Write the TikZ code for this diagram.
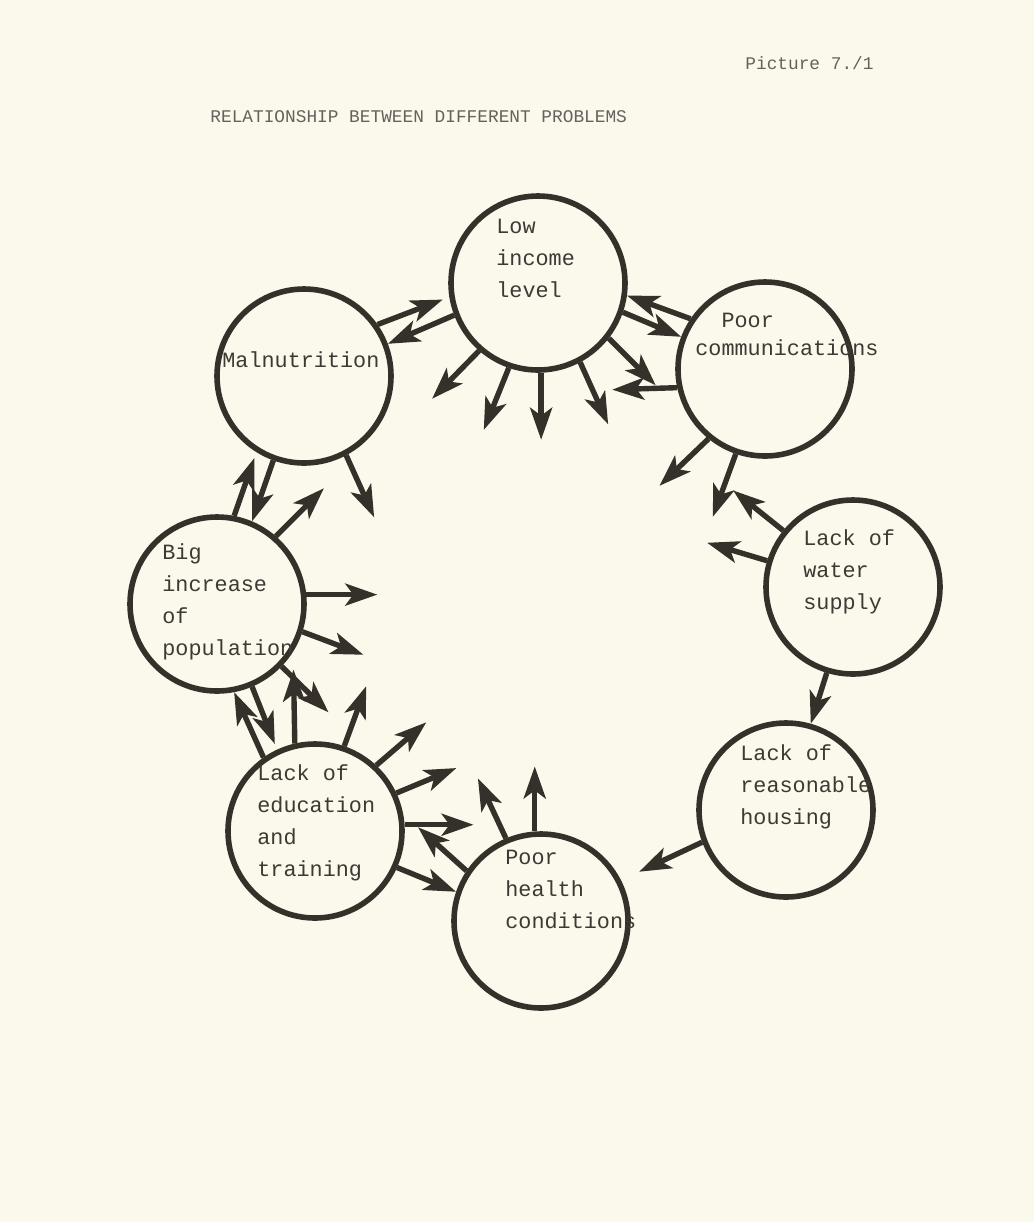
\documentclass[tikz,border=0pt]{standalone}
\usepackage{fontspec}
\setmonofont{Liberation Mono}
\usetikzlibrary{arrows.meta}
\definecolor{ink}{HTML}{35302A}
\definecolor{paper}{HTML}{FBF9EC}
\definecolor{typed}{HTML}{3E3934}
\tikzset{
	prob/.style={circle,draw=ink,line width=2.8pt,minimum size=87pt,inner sep=0pt},
	probtext/.style={anchor=west,align=left,inner sep=0pt,text=typed,font=\ttfamily\fontsize{10.9}{16}\selectfont},
	arr/.style={draw=ink,line width=2.7pt,-{Stealth[length=16pt,width=11pt,inset=4pt]}}
}
\begin{document}
\begin{tikzpicture}[x=0.5pt,y=-0.5pt]
	\fill[paper] (0,0) rectangle (1034,1222);
	\node (picno)[anchor=west,inner sep=0pt,text=typed!80,font=\ttfamily\fontsize{8.9}{10}\selectfont] at (745,63) {Picture 7./1};
	\node (title)[anchor=west,inner sep=0pt,text=typed!80,font=\ttfamily\fontsize{8.9}{10}\selectfont] at (210,117) {RELATIONSHIP BETWEEN DIFFERENT PROBLEMS};
	\node (low)[prob] at (538,283) {};
	\node (mal)[prob] at (304,376) {};
	\node (comm)[prob] at (765,369) {};
	\node (water)[prob] at (853,587) {};
	\node (house)[prob] at (786,810) {};
	\node (health)[prob] at (541,921) {};
	\node (edu)[prob] at (315,831) {};
	\node (pop)[prob] at (217,604) {};
	\node (lowtxt)[probtext] at (496,258) {Low\\income\\level};
	\node (maltxt)[probtext] at (222,360) {Malnutrition};
	\node (commtxt)[probtext,font=\ttfamily\fontsize{10.9}{14}\selectfont] at (695,334) {\phantom{co}Poor\\communications};
	\node (watertxt)[probtext] at (803,572) {Lack of\\water\\supply};
	\node (housetxt)[probtext] at (740,787) {Lack of\\reasonable\\housing};
	\node (healthtxt)[probtext] at (505,889) {Poor\\health\\conditions};
	\node (edutxt)[probtext] at (257,823) {Lack of\\education\\and\\training};
	\node (poptxt)[probtext] at (162,602) {Big\\increase\\of\\population};
	\draw[arr,shorten >=3.5pt] (mal.35) -- (low.189);
	\draw[arr] (low.201) -- (mal.21);
	\draw[arr] (low.229) -- ++(-47,48);
	\draw[arr] (low.251) -- ++(-25,62);
	\draw[arr] (low.272) -- ++(0,67);
	\draw[arr] (low.298) -- ++(28,62);
	\draw[arr] (low.322) -- ++(47,47);
	\draw[arr] (comm.192) -- ++(-65,2);
	\draw[arr] (comm.146) -- (low.352);
	\draw[arr] (low.341) -- (comm.159);
	\draw[arr] (comm.231) -- ++(-49,47);
	\draw[arr] (comm.251) -- ++(-23,63);
	\draw[arr] (water.141) -- ++(-50,-40);
	\draw[arr] (water.163) -- ++(-60,-18);
	\draw[arr] (water.253) -- (house.74);
	\draw[arr,shorten >=10pt] (house.201) -- (health.27);
	\draw[arr] (health.94) -- ++(0,-65);
	\draw[arr] (health.113) -- ++(-28,-60);
	\draw[arr,shorten >=10pt] (health.146) -- (edu.11);
	\draw[arr] (edu.336) -- (health.161);
	\draw[arr] (edu.4) -- ++(69,0);
	\draw[arr] (edu.25) -- ++(60,-25);
	\draw[arr] (edu.47) -- ++(50,-43);
	\draw[arr] (edu.71) -- ++(22,-60);
	\draw[arr,shorten >=9pt] (edu.103) -- (pop.328);
	\draw[arr] (pop.316) -- ++(47,46);
	\draw[arr,shorten >=3pt] (pop.293) -- (edu.115);
	\draw[arr] (edu.125) -- (pop.281);
	\draw[arr] (pop.6) -- ++(71,0);
	\draw[arr] (pop.342) -- ++(61,23);
	\draw[arr,shorten >=3pt] (pop.79) -- (mal.238);
	\draw[arr] (mal.250) -- (pop.67);
	\draw[arr] (pop.49) -- ++(48,-48);
	\draw[arr] (mal.298) -- ++(28,62);
\end{tikzpicture}
\end{document}
